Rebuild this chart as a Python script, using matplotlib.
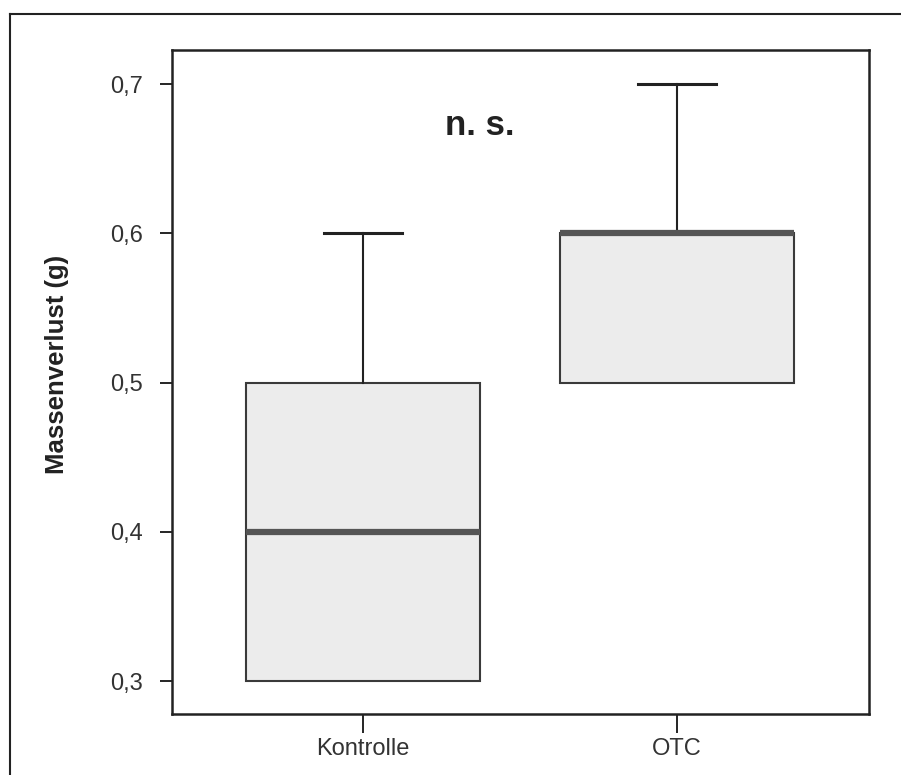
import matplotlib
matplotlib.use("Agg")
import matplotlib.pyplot as plt
from matplotlib.lines import Line2D

categories = ["Kontrolle", "OTC"]
q1 = [0.3, 0.5]
med = [0.4, 0.6]
q3 = [0.5, 0.6]
wlo = [0.3, 0.5]
whi = [0.6, 0.7]
yticks = [0.3, 0.4, 0.5, 0.6, 0.7]
ytick_labels = ["0,3", "0,4", "0,5", "0,6", "0,7"]
ylabel = "Massenverlust (g)"
annotation = "n. s."

plt.rcParams['font.family'] = ['Liberation Sans', 'DejaVu Sans']

fig = plt.figure(figsize=(9.01, 7.75), dpi=100)
ax = fig.add_axes([172/901, 1-714/775, (869-172)/901, (714-50)/775])

stats = []
for i, c in enumerate(categories):
    stats.append(dict(label=c, q1=q1[i], med=med[i], q3=q3[i],
                      whislo=wlo[i], whishi=whi[i], fliers=[]))

positions = [1, 2]
art = ax.bxp(stats, positions=positions, widths=0.745, patch_artist=True,
             showfliers=False, capwidths=0.25,
             boxprops=dict(facecolor="#ececec", edgecolor="#3a3a3a", linewidth=1.5),
             medianprops=dict(color="#555555", linewidth=4.5, solid_capstyle="butt"),
             whiskerprops=dict(color="#222222", linewidth=1.5),
             capprops=dict(color="#222222", linewidth=2.2))
# no lower caps in the reference
for k, cap in enumerate(art["caps"]):
    if k % 2 == 0:
        cap.set_visible(False)

ax.set_xlim(0.392, 2.611)
ax.set_ylim(0.278, 0.7228)
ax.set_yticks(yticks)
ax.set_yticklabels(ytick_labels)
ax.set_xticks(positions)
ax.set_xticklabels(categories)
ax.tick_params(axis="y", direction="out", length=9, width=1.2, labelsize=17,
               labelcolor="#333333", pad=12)
ax.tick_params(axis="x", direction="out", length=14, width=1.2, labelsize=17,
               labelcolor="#333333", pad=3)
for s in ax.spines.values():
    s.set_linewidth(1.8)
    s.set_color("#222222")

ax.set_ylabel(ylabel, fontsize=18.5, fontweight="bold", color="#222222")
ax.yaxis.set_label_coords(-0.148, 0.527)

ax.text(1.373, 0.672, annotation, fontsize=25, fontweight="bold",
        color="#222222", ha="center", va="center")

# outer frame (top and left edges visible)
fig.add_artist(Line2D([10/901, 10/901], [0, 1-14/775], transform=fig.transFigure,
                      color="#222222", linewidth=1.5))
fig.add_artist(Line2D([10/901, 1], [1-14/775, 1-14/775], transform=fig.transFigure,
                      color="#222222", linewidth=1.5))

fig.savefig("out.png", dpi=100)
